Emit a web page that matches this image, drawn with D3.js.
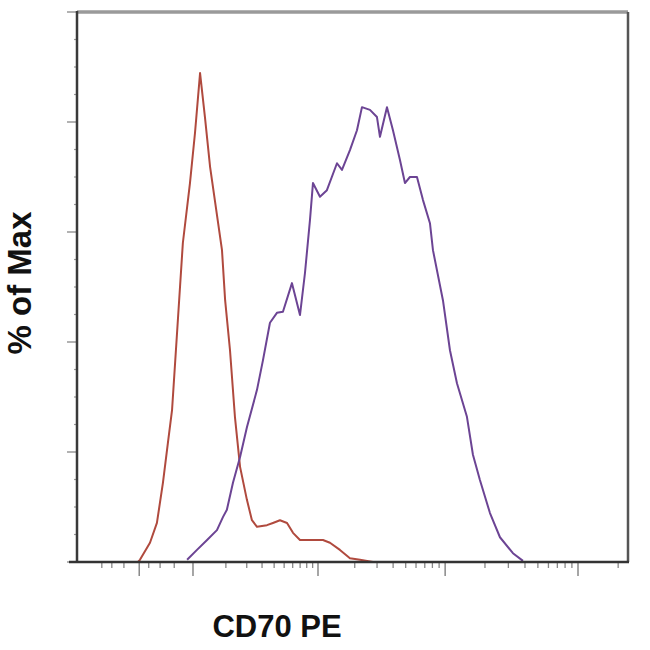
<!DOCTYPE html>
<html><head><meta charset="utf-8">
<script src="https://cdn.jsdelivr.net/npm/d3@7/dist/d3.min.js"></script>
<style>body{margin:0;background:#fff}svg{display:block}</style>
</head><body>
<svg id="c" width="650" height="650"></svg>
<script>
// Isotype control (red) : [intensity, % of Max]
const isotypeX = [-207,-196,-144,-113,-89,-71,-57,-39,-25,-7,4.6,17,30,45,67,85,97,117,139,164,201,231,264,338,389,456,532,604,698,906,1101,1259,1520,1831,2201,2786];
const isotypeY = [0,0.4,3.5,7.1,14.4,21.6,27.6,44.0,58.0,68.9,78.0,88.9,80.9,71.8,63.1,56.7,47.6,38.5,26.4,17.3,11.3,7.6,6.4,6.7,7.1,7.6,7.1,5.3,4.0,4.0,4.0,3.5,2.2,0.7,0.4,0];
// CD70 PE stained (purple)
const cd70X = [-14,9.3,36,67,89,104,130,164,201,264,307,363,426,487,591,698,772,854,906,1039,1188,1438,1579,1831,2084,2283,2640,2995,3161,3584,3988,4517,4935,5389,6101,6783,7664,8080,9621,10876,12289,14620,16230,18321,21812,25938,32474,38645];
const cd70Y = [0.4,2.2,4.0,5.8,8.2,9.5,14.4,19.1,24.5,31.3,36.7,43.5,45.3,45.5,50.7,44.9,52.5,62.2,68.9,66.4,67.6,72.5,71.3,74.9,78.5,82.7,82.2,80.9,77.3,82.7,78.5,73.1,68.9,70.0,70.0,65.8,61.6,56.7,47.6,38.5,32.5,26.4,19.5,14.9,8.9,4.5,1.6,0.2];
const xMajorTicks = [-200, 0, 1000, 10000, 100000];
const xMinorTicks = [-500,-400,-300,-150,-100,-50,100,200,300,400,500,600,700,800,900,
  2000,3000,4000,5000,6000,7000,8000,9000,20000,30000,40000,50000,60000,70000,80000,90000,200000];
const yMajorTicks = [0,20,40,60,80,100];
const yMinorTicks = [5,10,15,25,30,35,45,50,55,65,70,75,85,90,95];
const xLabel = "CD70 PE", yLabel = "% of Max";

const L=77, R=628, T=12, B=562;
const svg = d3.select("#c");
const x = d3.scaleSymlog().constant(131).domain([-837, 237000]).range([L, R]);
const y = d3.scaleLinear().domain([0,100]).range([B, T]);

// frame
svg.append("line").attr("x1",L).attr("x2",R).attr("y1",T).attr("y2",T).attr("stroke","#9a9a9a").attr("stroke-width",3.5);
svg.append("line").attr("x1",R).attr("x2",R).attr("y1",T).attr("y2",B).attr("stroke","#555").attr("stroke-width",2.5);

// x ticks
const gx = svg.append("g").attr("stroke","#888");
gx.selectAll(".mn").data(xMinorTicks).join("line").attr("x1",d=>x(d)).attr("x2",d=>x(d)).attr("y1",B).attr("y2",B+6).attr("stroke-width",1.3);
gx.selectAll(".mj").data(xMajorTicks).join("line").attr("x1",d=>x(d)).attr("x2",d=>x(d)).attr("y1",B).attr("y2",B+14).attr("stroke-width",1.5);
// y ticks
const gy = svg.append("g").attr("stroke","#999");
gy.selectAll(".mn").data(yMinorTicks).join("line").attr("x1",L-3).attr("x2",L).attr("y1",d=>y(d)).attr("y2",d=>y(d)).attr("stroke-width",1.2);
gy.selectAll(".mj").data(yMajorTicks).join("line").attr("x1",L-10).attr("x2",L).attr("y1",d=>y(d)).attr("y2",d=>y(d)).attr("stroke-width",1.5);

const line = d3.line().x(d=>x(d[0])).y(d=>y(d[1]));
svg.append("path").datum(isotypeX.map((v,i)=>[v,isotypeY[i]])).attr("d",line)
  .attr("fill","none").attr("stroke","#b04a3e").attr("stroke-width",2).attr("stroke-linejoin","round");
svg.append("path").datum(cd70X.map((v,i)=>[v,cd70Y[i]])).attr("d",line)
  .attr("fill","none").attr("stroke","#6c4494").attr("stroke-width",2).attr("stroke-linejoin","round");

// axes lines
svg.append("line").attr("x1",L).attr("x2",L).attr("y1",T-1).attr("y2",B+1).attr("stroke","#3a3a3a").attr("stroke-width",2.5);
svg.append("line").attr("x1",L-8).attr("x2",R+1).attr("y1",B).attr("y2",B).attr("stroke","#333").attr("stroke-width",2.5);

svg.append("text").attr("x",277).attr("y",637).attr("text-anchor","middle")
  .attr("font-family","Liberation Sans, Arial, sans-serif").attr("font-weight","bold").attr("font-size",31).attr("fill","#111").text(xLabel);
svg.append("text").attr("transform","translate(31,283) rotate(-90)").attr("text-anchor","middle")
  .attr("font-family","Liberation Sans, Arial, sans-serif").attr("font-weight","bold").attr("font-size",33).attr("fill","#111").text(yLabel);
</script>
</body></html>
